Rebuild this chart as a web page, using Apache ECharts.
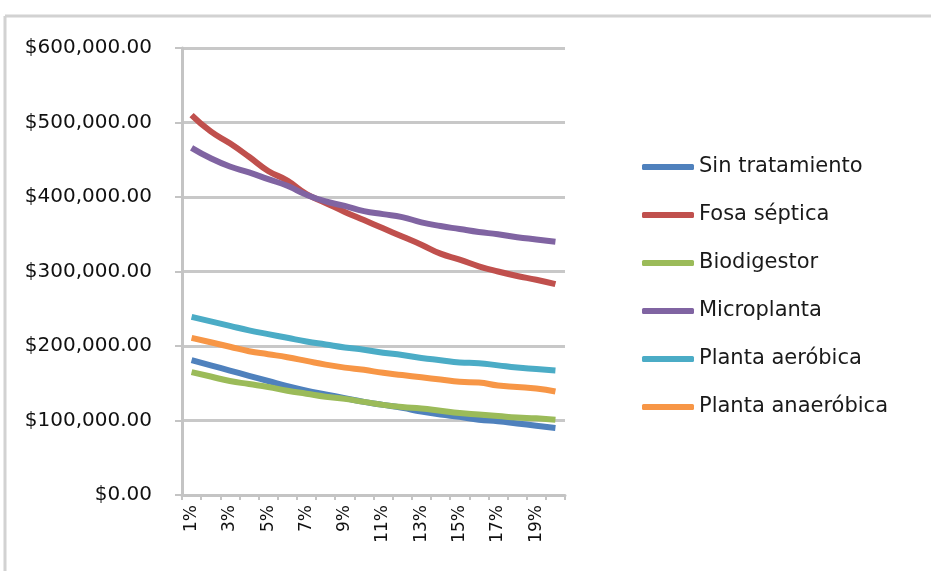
<!DOCTYPE html>
<html>
<head>
    <meta charset="utf-8">
    <title>Costos por tasa</title>
    <style>
        html, body { margin: 0; padding: 0; background: #fff; overflow: hidden; }
        #chart { width: 931px; height: 571px; }
    </style>
</head>
<body>
<div id="chart"></div>
<script src="https://cdn.jsdelivr.net/npm/echarts@6/dist/echarts.min.js"></script>
<script>
    // tasas 1% .. 20%
    var tasas = ['1%', '2%', '3%', '4%', '5%', '6%', '7%', '8%', '9%', '10%',
        '11%', '12%', '13%', '14%', '15%', '16%', '17%', '18%', '19%', '20%'];

    var sinTratamiento = [181000, 174000, 167000, 160000, 153000, 146000, 140000, 135000, 130000, 125000,
        121000, 117000, 112000, 108000, 105000, 101000, 99000, 96000, 93000, 90000];
    var fosaSeptica = [510000, 488000, 472000, 454000, 435000, 422000, 404000, 392000, 380000, 369000,
        358000, 347000, 336000, 324000, 316000, 307000, 300000, 294000, 289000, 283000];
    var biodigestor = [165000, 159000, 153000, 149000, 145000, 140000, 136000, 132000, 129000, 125000,
        121000, 118000, 116000, 113000, 110000, 108000, 106000, 104000, 103000, 101000];
    var microplanta = [466000, 452000, 441000, 433000, 424000, 415000, 403000, 394000, 388000, 381000,
        377000, 373000, 366000, 361000, 357000, 353000, 350000, 346000, 343000, 340000];
    var plantaAerobica = [239000, 233000, 227000, 221000, 216000, 211000, 206000, 202000, 198000, 195000,
        191000, 188000, 184000, 181000, 178000, 177000, 174000, 171000, 169000, 167000];
    var plantaAnaerobica = [211000, 205000, 199000, 193000, 189000, 185000, 180000, 175000, 171000, 168000,
        164000, 161000, 158000, 155000, 152000, 151000, 147000, 145000, 143000, 139000];

    var nombres = ['Sin tratamiento', 'Fosa séptica', 'Biodigestor', 'Microplanta', 'Planta aeróbica', 'Planta anaeróbica'];
    var colores = ['#4f81bd', '#c0504d', '#9bbb59', '#8064a2', '#4bacc6', '#f79646'];
    var datos = [sinTratamiento, fosaSeptica, biodigestor, microplanta, plantaAerobica, plantaAnaerobica];

    var myChart = echarts.init(document.getElementById('chart'));
    var fuente = 'DejaVu Sans';

    var series = [];
    for (var i = 0; i < datos.length; i++) {
        series.push({
            name: nombres[i],
            type: 'line',
            data: datos[i],
            smooth: true,
            symbol: 'none',
            lineStyle: { width: 6, color: colores[i] },
            itemStyle: { color: colores[i] }
        });
    }

    var option = {
        animation: false,
        color: colores,
        // marco del area del grafico (solo arriba e izquierda visibles)
        graphic: [
            { type: 'line', shape: { x1: 5, y1: 16, x2: 931, y2: 16 }, style: { stroke: '#d2d2d2', lineWidth: 3 } },
            { type: 'line', shape: { x1: 5, y1: 16, x2: 5, y2: 571 }, style: { stroke: '#d2d2d2', lineWidth: 3 } }
        ],
        grid: { left: 182, right: 366, top: 48, bottom: 76 },
        legend: {
            orient: 'vertical',
            left: 637,
            top: 151,
            itemWidth: 52,
            itemHeight: 6,
            itemGap: 26,
            icon: 'roundRect',
            data: nombres,
            textStyle: { fontFamily: fuente, fontSize: 21, color: '#1a1a1a', lineHeight: 22 }
        },
        xAxis: {
            type: 'category',
            data: tasas,
            boundaryGap: true,
            axisLine: { lineStyle: { color: '#c4c4c4', width: 3 } },
            axisTick: { show: true, length: 5, alignWithLabel: false, interval: 0, lineStyle: { color: '#c4c4c4', width: 2 } },
            axisLabel: {
                interval: 1,
                rotate: 90,
                margin: 10,
                fontFamily: fuente,
                fontSize: 17,
                color: '#111'
            }
        },
        yAxis: {
            type: 'value',
            min: 0,
            max: 600000,
            interval: 100000,
            axisLine: { show: true, lineStyle: { color: '#c4c4c4', width: 3 } },
            axisTick: { show: true, length: 7, lineStyle: { color: '#c4c4c4', width: 2 } },
            splitLine: { lineStyle: { color: '#c8c8c8', width: 3 } },
            axisLabel: {
                margin: 30,
                fontFamily: fuente,
                fontSize: 20,
                color: '#111',
                formatter: function (v) {
                    return '$' + v.toLocaleString('en-US', { minimumFractionDigits: 2, maximumFractionDigits: 2 });
                }
            }
        },
        series: series
    };
    myChart.setOption(option);
</script>
</body>
</html>
